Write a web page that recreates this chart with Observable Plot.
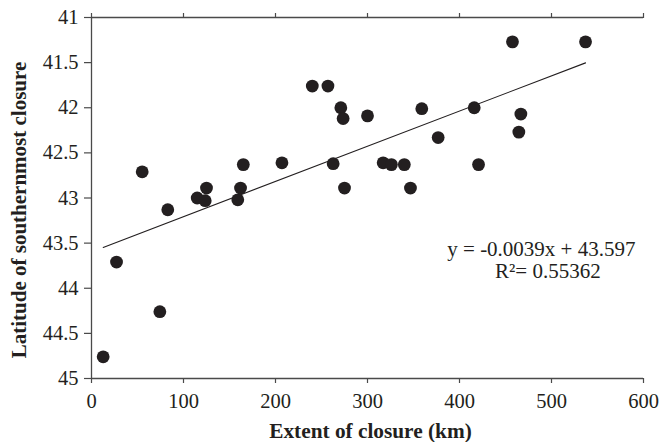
<!DOCTYPE html>
<html><head><meta charset="utf-8">
<script src="https://cdn.jsdelivr.net/npm/d3@7"></script>
<script src="https://cdn.jsdelivr.net/npm/@observablehq/plot@0.6"></script>
<style>html,body{margin:0;padding:0;background:#fff;}</style>
</head><body><div id="chart"></div>
<script>
const extentKm = [55.1, 82.9, 114.9, 123.6, 125, 159, 162, 165, 207, 240, 257, 262.7, 271, 273.5, 275, 300, 317, 326, 340, 346.7, 359, 376.8, 416, 420.7, 457.6, 466.7, 464.5, 537, 27.2, 74.3, 12.7];
const latitude = [42.71, 43.13, 43.00, 43.03, 42.89, 43.02, 42.89, 42.63, 42.61, 41.76, 41.76, 42.62, 42.00, 42.12, 42.89, 42.09, 42.61, 42.63, 42.63, 42.89, 42.01, 42.33, 42.00, 42.63, 41.27, 42.07, 42.27, 41.27, 43.71, 44.26, 44.76];
const xTicks = [0, 100, 200, 300, 400, 500, 600];
const yTicks = [41, 41.5, 42, 42.5, 43, 43.5, 44, 44.5, 45];
const fitCoef = [-0.0039, 43.597];
const equationLines = ["y = -0.0039x + 43.597", "R\u00B2= 0.55362"];
const xTitle = "Extent of closure (km)";
const yTitle = "Latitude of southernmost closure";

const ink = "#231f20", axisInk = "#4a4a4a";
const points = extentKm.map((x, i) => ({x, y: latitude[i]}));
const [xmin, xmax] = d3.extent(extentKm);
const trend = [xmin, xmax].map(x => ({x, y: fitCoef[0] * x + fitCoef[1]}));

const chart = Plot.plot({
  width: 662, height: 442,
  marginLeft: 91, marginTop: 17, marginRight: 19, marginBottom: 64,
  style: {fontFamily: "'Liberation Serif', 'Times New Roman', serif", fontSize: "20px", color: ink, background: "#fff", overflow: "visible"},
  x: {domain: [0, 600], axis: null},
  y: {domain: [41, 45], reverse: true, axis: null},
  marks: [
    Plot.ruleY([41, 45], {stroke: axisInk, strokeWidth: 1.3}),
    Plot.ruleX([0], {stroke: axisInk, strokeWidth: 1.3}),
    Plot.axisX(xTicks, {anchor: "bottom", tickSize: 5, tickPadding: 10, tickFormat: d => String(d), fontSize: 20.5, stroke: axisInk, fill: ink, strokeWidth: 1.2, label: null}),
    Plot.axisX(xTicks, {anchor: "top", tickSize: 5, tickFormat: () => "", stroke: axisInk, strokeWidth: 1.2, label: null}),
    Plot.axisY(yTicks, {anchor: "left", tickSize: 7, tickPadding: 6, tickFormat: d => String(d), fontSize: 20.5, stroke: axisInk, fill: ink, strokeWidth: 1.2, label: null}),
    Plot.line(trend, {x: "x", y: "y", stroke: ink, strokeWidth: 1.1}),
    Plot.dot(points, {x: "x", y: "y", r: 6.4, fill: ink, stroke: "none"}),
    Plot.text([equationLines[0]], {x: 489, y: 43.64, text: d => d, textAnchor: "middle", lineAnchor: "bottom", fontSize: 21, fill: ink}),
    Plot.text([equationLines[1]], {x: 496, y: 43.885, text: d => d, textAnchor: "middle", lineAnchor: "bottom", fontSize: 21, fill: ink}),
    Plot.text([xTitle], {frameAnchor: "bottom", dx: 3, dy: 59, text: d => d, textAnchor: "middle", lineAnchor: "bottom", fontWeight: "bold", fontSize: 21.3, fill: ink}),
    Plot.text([yTitle], {frameAnchor: "left", dx: -72, dy: 12, rotate: -90, text: d => d, textAnchor: "middle", lineAnchor: "middle", fontWeight: "bold", fontSize: 21, fill: ink})
  ]
});
document.getElementById("chart").appendChild(chart);
</script>
</body></html>
